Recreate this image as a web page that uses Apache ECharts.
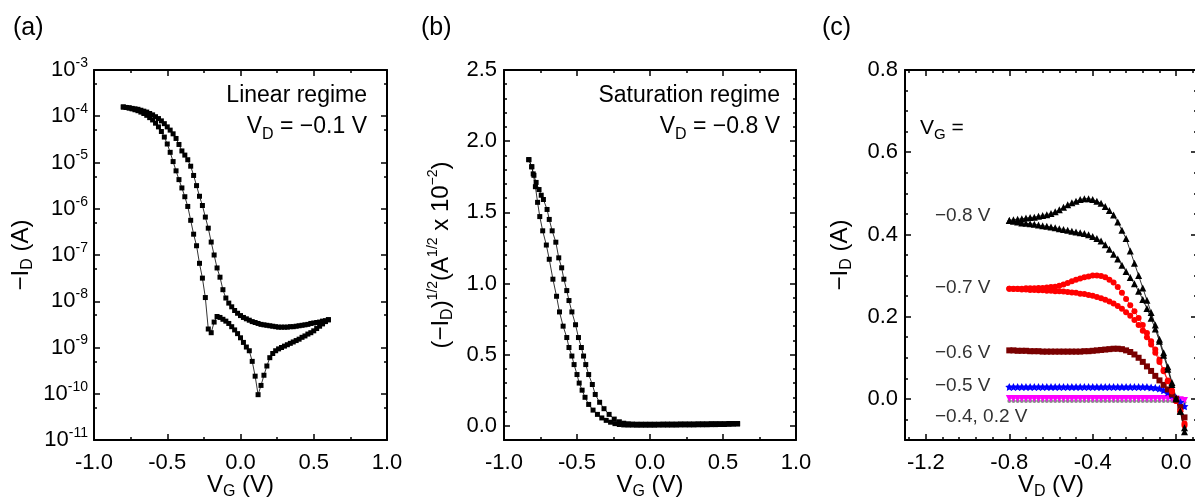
<!DOCTYPE html>
<html>
<head>
<meta charset="utf-8">
<script src="https://cdn.jsdelivr.net/npm/echarts@6/dist/echarts.min.js"></script>
<style>
	html, body {margin: 0;padding: 0;background: #fff}
	#main {width: 1195px;height: 504px}
</style>
</head>
<body>
<div id="main"></div>
<script>
	// (a) transfer curve, linear regime: V_G and log10(-I_D) of both sweep branches
	var aVg = [-0.80,-0.78,-0.76,-0.74,-0.72,-0.70,-0.68,-0.66,-0.64,-0.62,-0.60,-0.58,-0.56,-0.54,-0.52,-0.50,-0.48,-0.46,-0.44,-0.42,-0.40,-0.38,-0.36,-0.34,-0.32,-0.30,-0.28,-0.26,-0.24,-0.22,-0.20,-0.18,-0.16,-0.14,-0.12,-0.10,-0.08,-0.06,-0.04,-0.02,0.00,0.02,0.04,0.06,0.08,0.10,0.12,0.14,0.16,0.18,0.20,0.22,0.24,0.26,0.28,0.30,0.32,0.34,0.36,0.38,0.40,0.42,0.44,0.46,0.48,0.50,0.52,0.54,0.56,0.58,0.60];
	var aLogLow = [-3.80,-3.81,-3.82,-3.84,-3.86,-3.88,-3.91,-3.94,-3.98,-4.03,-4.08,-4.15,-4.23,-4.33,-4.45,-4.60,-4.78,-4.98,-5.18,-5.37,-5.55,-5.74,-5.95,-6.25,-6.55,-6.80,-7.18,-7.50,-7.92,-8.60,-8.68,-8.45,-8.33,-8.35,-8.39,-8.43,-8.48,-8.55,-8.62,-8.70,-8.79,-8.89,-8.99,-9.07,-9.30,-9.62,-10.02,-9.82,-9.60,-9.40,-9.22,-9.13,-9.07,-9.03,-9.00,-8.97,-8.94,-8.91,-8.88,-8.85,-8.82,-8.78,-8.75,-8.71,-8.68,-8.64,-8.59,-8.54,-8.49,-8.44,-8.40];
	var aLogHigh = [-3.80,-3.81,-3.82,-3.83,-3.84,-3.85,-3.87,-3.89,-3.91,-3.94,-3.97,-4.01,-4.05,-4.10,-4.16,-4.23,-4.30,-4.38,-4.48,-4.61,-4.75,-4.84,-4.94,-5.08,-5.28,-5.50,-5.73,-5.93,-6.18,-6.42,-6.72,-7.00,-7.28,-7.48,-7.75,-7.93,-8.04,-8.12,-8.20,-8.26,-8.31,-8.35,-8.38,-8.41,-8.44,-8.46,-8.48,-8.50,-8.51,-8.52,-8.53,-8.54,-8.55,-8.56,-8.56,-8.56,-8.56,-8.55,-8.55,-8.54,-8.53,-8.52,-8.51,-8.50,-8.48,-8.47,-8.46,-8.45,-8.43,-8.42,-8.40];

	// (b) saturation regime: (-I_D)^1/2 in units of 1e-2 A^1/2
	var bVgLow = [-0.83,-0.81,-0.80,-0.785,-0.77,-0.755,-0.735,-0.71,-0.69,-0.665,-0.64,-0.62,-0.595,-0.57,-0.555,-0.535,-0.52,-0.50,-0.485,-0.465,-0.445,-0.42,-0.39,-0.36,-0.33,-0.30,-0.27,-0.24,-0.21,-0.18,-0.15,-0.12,-0.09,-0.06,-0.03,0.00,0.03,0.06,0.09,0.12,0.15,0.18,0.21,0.24,0.27,0.30,0.33,0.36,0.39,0.42,0.45,0.48,0.51,0.54,0.57,0.60];
	var bSqLow = [1.87,1.82,1.77,1.68,1.57,1.47,1.37,1.27,1.17,1.03,0.91,0.80,0.70,0.62,0.55,0.49,0.43,0.36,0.30,0.25,0.20,0.15,0.11,0.08,0.055,0.038,0.025,0.015,0.009,0.006,0.005,0.005,0.004,0.004,0.004,0.004,0.004,0.005,0.005,0.005,0.005,0.005,0.006,0.006,0.006,0.006,0.007,0.007,0.007,0.008,0.008,0.009,0.009,0.010,0.011,0.012];
	var bVgHigh = [-0.83,-0.81,-0.795,-0.78,-0.76,-0.745,-0.73,-0.705,-0.69,-0.67,-0.645,-0.625,-0.605,-0.59,-0.57,-0.555,-0.535,-0.51,-0.49,-0.47,-0.455,-0.44,-0.42,-0.395,-0.375,-0.345,-0.315,-0.28,-0.245,-0.21,-0.18,-0.15,-0.12,-0.09,-0.06,-0.03,0.00,0.03,0.06,0.09,0.12,0.15,0.18,0.21,0.24,0.27,0.30,0.33,0.36,0.39,0.42,0.45,0.48,0.51,0.54,0.57,0.60];
	var bSqHigh = [1.87,1.82,1.76,1.71,1.66,1.62,1.59,1.52,1.45,1.37,1.29,1.18,1.11,1.03,0.95,0.88,0.80,0.71,0.62,0.55,0.49,0.43,0.36,0.29,0.22,0.165,0.12,0.08,0.047,0.028,0.018,0.014,0.012,0.011,0.011,0.011,0.011,0.011,0.011,0.012,0.012,0.012,0.012,0.013,0.013,0.013,0.013,0.014,0.014,0.014,0.015,0.015,0.015,0.015,0.016,0.016,0.016];

	// (c) output curves: V_D and -I_D (A) for each V_G
	var cVd = [-0.80,-0.78,-0.76,-0.74,-0.72,-0.70,-0.68,-0.66,-0.64,-0.62,-0.60,-0.58,-0.56,-0.54,-0.52,-0.50,-0.48,-0.46,-0.44,-0.42,-0.40,-0.38,-0.36,-0.34,-0.32,-0.30,-0.28,-0.26,-0.24,-0.22,-0.20,-0.18,-0.16,-0.14,-0.12,-0.10,-0.08,-0.06,-0.04,-0.02,0.00,0.02,0.04];
	var cVg08Up = [0.434,0.436,0.437,0.438,0.440,0.441,0.442,0.444,0.446,0.448,0.451,0.455,0.460,0.466,0.472,0.477,0.481,0.485,0.487,0.487,0.485,0.481,0.476,0.468,0.458,0.447,0.430,0.410,0.390,0.360,0.330,0.300,0.270,0.240,0.210,0.180,0.145,0.112,0.078,0.040,0.002,-0.030,-0.080];
	var cVg08Down = [0.434,0.432,0.430,0.428,0.427,0.426,0.425,0.423,0.421,0.420,0.418,0.416,0.414,0.412,0.410,0.408,0.406,0.404,0.402,0.399,0.395,0.390,0.384,0.375,0.364,0.352,0.340,0.325,0.310,0.295,0.280,0.262,0.242,0.220,0.196,0.170,0.140,0.106,0.072,0.035,0.000,-0.030,-0.070];
	var cVg07Up = [0.268,0.268,0.268,0.268,0.269,0.269,0.269,0.270,0.270,0.271,0.272,0.273,0.275,0.278,0.282,0.286,0.290,0.293,0.296,0.298,0.300,0.300,0.299,0.296,0.290,0.283,0.272,0.258,0.243,0.228,0.213,0.197,0.180,0.160,0.140,0.120,0.095,0.070,0.045,0.020,-0.005,-0.030,-0.060];
	var cVg07Down = [0.268,0.267,0.267,0.266,0.266,0.265,0.265,0.264,0.264,0.263,0.263,0.262,0.262,0.261,0.260,0.259,0.258,0.256,0.255,0.253,0.251,0.248,0.245,0.241,0.237,0.232,0.226,0.219,0.211,0.202,0.192,0.180,0.166,0.150,0.132,0.112,0.090,0.067,0.043,0.018,-0.005,-0.030,-0.065];
	var cVg06 = [0.118,0.118,0.117,0.117,0.117,0.116,0.116,0.116,0.115,0.115,0.115,0.115,0.115,0.115,0.115,0.115,0.115,0.115,0.116,0.116,0.117,0.118,0.119,0.120,0.121,0.122,0.122,0.121,0.118,0.114,0.108,0.100,0.090,0.079,0.068,0.056,0.045,0.034,0.023,0.011,0.000,-0.020,-0.045];
	var cVg05 = [0.029,0.029,0.029,0.029,0.029,0.029,0.029,0.029,0.029,0.029,0.029,0.029,0.029,0.029,0.029,0.029,0.029,0.029,0.029,0.029,0.029,0.029,0.029,0.029,0.029,0.029,0.029,0.029,0.029,0.029,0.029,0.029,0.029,0.029,0.028,0.027,0.025,0.021,0.016,0.009,0.001,-0.008,-0.018];
	var cVg04 = [0.001,0.001,0.001,0.001,0.001,0.001,0.001,0.001,0.001,0.001,0.001,0.001,0.001,0.001,0.001,0.001,0.001,0.001,0.001,0.001,0.001,0.001,0.001,0.001,0.001,0.001,0.001,0.001,0.001,0.001,0.001,0.001,0.001,0.001,0.001,0.001,0.001,0.001,0.001,0.001,0.000,-0.002,-0.004];
	var cVgP02 = [-0.005,-0.005,-0.005,-0.005,-0.005,-0.005,-0.005,-0.005,-0.005,-0.005,-0.005,-0.005,-0.005,-0.005,-0.005,-0.005,-0.005,-0.005,-0.005,-0.005,-0.005,-0.005,-0.005,-0.005,-0.005,-0.005,-0.005,-0.005,-0.005,-0.005,-0.005,-0.005,-0.005,-0.005,-0.005,-0.005,-0.005,-0.005,-0.005,-0.005,-0.005,-0.006,-0.008];

	// tick values
	var vgTicks = [-1.0, -0.5, 0.0, 0.5, 1.0];
	var vgMinor = [-0.75, -0.25, 0.25, 0.75];
	var aYTicks = [1e-11, 1e-10, 1e-9, 1e-8, 1e-7, 1e-6, 1e-5, 1e-4, 1e-3];
	var aYMinor = [5e-11, 5e-10, 5e-9, 5e-8, 5e-7, 5e-6, 5e-5, 5e-4];
	var bYTicks = [0.0, 0.5, 1.0, 1.5, 2.0, 2.5];
	var bYMinor = [0.1, 0.2, 0.3, 0.4, 0.6, 0.7, 0.8, 0.9, 1.1, 1.2, 1.3, 1.4, 1.6, 1.7, 1.8, 1.9, 2.1, 2.2, 2.3, 2.4];
	var cXTicks = [-1.2, -0.8, -0.4, 0.0];
	var cXMinor = [-1.28, -1.12, -1.04, -0.96, -0.88, -0.72, -0.64, -0.56, -0.48, -0.32, -0.24, -0.16, -0.08, 0.08];
	var cYTicks = [0.0, 0.2, 0.4, 0.6, 0.8];
	var cYMinor = [-0.05, 0.05, 0.1, 0.15, 0.25, 0.3, 0.35, 0.45, 0.5, 0.55, 0.65, 0.7, 0.75];

	var FONT = '"Liberation Sans", Arial, sans-serif';
	var RICH = {
		sub: {fontSize: 16, verticalAlign: 'bottom', fontFamily: FONT, color: '#000'},
		sup: {fontSize: 14, verticalAlign: 'top', fontFamily: FONT, color: '#000'}
	};

	function fixed1(v) {
		return Math.abs(v) < 1e-9 ? '0.0' : v.toFixed(1);
	}
	function powLabel(v) {
		return '10{sup|' + Math.round(Math.log(v) / Math.LN10) + '}';
	}

	function makeAxis(o) {
		var axis = {
			type: o.type || 'value',
			gridIndex: o.grid,
			position: o.pos,
			min: o.min,
			max: o.max,
			splitLine: {show: false},
			axisLine: {show: !!o.line, onZero: false, lineStyle: {color: '#000', width: 2}},
			axisTick: {show: true, inside: true, length: o.len, customValues: o.ticks, lineStyle: {color: '#000', width: 1.5}},
			axisLabel: {show: false}
		};
		if (o.type == 'log') axis.logBase = 10;
		if (o.label) {
			axis.axisLabel = {
				show: true, customValues: o.ticks, formatter: o.label, margin: o.margin,
				fontFamily: FONT, fontSize: 22, color: '#000', lineHeight: 28, rich: RICH
			};
		}
		if (o.name) {
			axis.name = o.name;
			axis.nameLocation = 'middle';
			axis.nameGap = o.nameGap;
			axis.nameRotate = o.nameRotate || 0;
			if (o.noMove) axis.nameMoveOverlap = false;
			axis.nameTextStyle = {fontFamily: FONT, fontSize: 24, color: '#000', lineHeight: 30, rich: RICH};
		}
		return axis;
	}

	// main axis (line, major ticks, labels), its minor ticks, and the mirrored side
	function addAxisSet(list, o) {
		var idx = list.length;
		var base = {grid: o.grid, type: o.type, min: o.min, max: o.max};
		list.push(makeAxis(Object.assign({}, o, {pos: o.pos, line: true, ticks: o.majors, len: 6})));
		list.push(makeAxis(Object.assign({}, base, {pos: o.pos, ticks: o.minors, len: 3})));
		list.push(makeAxis(Object.assign({}, base, {pos: o.opp, line: true, ticks: o.majors, len: 6})));
		list.push(makeAxis(Object.assign({}, base, {pos: o.opp, ticks: o.minors, len: 3})));
		return idx;
	}

	var xAxes = [], yAxes = [];
	var ax = addAxisSet(xAxes, {grid: 0, min: -1, max: 1, pos: 'bottom', opp: 'top', majors: vgTicks, minors: vgMinor,
		label: fixed1, margin: 9, name: 'V{sub|G} (V)', nameGap: 30, noMove: true});
	var ay = addAxisSet(yAxes, {grid: 0, type: 'log', min: 1e-11, max: 1e-3, pos: 'left', opp: 'right', majors: aYTicks, minors: aYMinor,
		label: powLabel, margin: 6, name: '−I{sub|D} (A)', nameGap: 58, nameRotate: 90});
	var bx = addAxisSet(xAxes, {grid: 1, min: -1, max: 1, pos: 'bottom', opp: 'top', majors: vgTicks, minors: vgMinor,
		label: fixed1, margin: 9, name: 'V{sub|G} (V)', nameGap: 30, noMove: true});
	var by = addAxisSet(yAxes, {grid: 1, min: -0.1, max: 2.5, pos: 'left', opp: 'right', majors: bYTicks, minors: bYMinor,
		label: fixed1, margin: 7, name: '(−I{sub|D}){sup|1/2}(A{sup|1/2} x 10{sup|−2})', nameGap: 48, nameRotate: 90});
	var cx = addAxisSet(xAxes, {grid: 2, min: -1.3, max: 0.1, pos: 'bottom', opp: 'top', majors: cXTicks, minors: cXMinor,
		label: fixed1, margin: 9, name: 'V{sub|D} (V)', nameGap: 30, noMove: true});
	var cy = addAxisSet(yAxes, {grid: 2, min: -0.1, max: 0.8, pos: 'left', opp: 'right', majors: cYTicks, minors: cYMinor,
		label: fixed1, margin: 7, name: '−I{sub|D} (A)', nameGap: 50, nameRotate: 90});

	function pairs(xs, ys, f) {
		return xs.map(function (x, i) { return [x, f ? f(ys[i]) : ys[i]]; });
	}
	function pow10(v) { return Math.pow(10, v); }

	function line(xi, yi, data, symbol, size, color, extra) {
		return Object.assign({
			type: 'line', xAxisIndex: xi, yAxisIndex: yi, data: data,
			symbol: symbol, symbolSize: size, showAllSymbol: true,
			itemStyle: {color: color, opacity: 1},
			lineStyle: {color: color, width: 0.8},
			emphasis: {disabled: true},
			z: 3
		}, extra || {});
	}

	var STAR = 'path://M0,-10L2.9,-4L9.5,-3.1L4.8,1.5L5.9,8.1L0,5L-5.9,8.1L-4.8,1.5L-9.5,-3.1L-2.9,-4Z';

	var series = [
		line(ax, ay, pairs(aVg, aLogLow, pow10), 'rect', 5, '#000'),
		line(ax, ay, pairs(aVg, aLogHigh, pow10), 'rect', 5, '#000'),
		line(bx, by, pairs(bVgLow, bSqLow), 'rect', 5, '#000'),
		line(bx, by, pairs(bVgHigh, bSqHigh), 'rect', 5, '#000'),
		line(cx, cy, pairs(cVd, cVgP02), 'circle', 4, '#8c8c8c'),
		line(cx, cy, pairs(cVd, cVg04), 'triangle', 7, '#ff00ff', {symbolRotate: 180}),
		line(cx, cy, pairs(cVd, cVg05), STAR, 8, '#0000ff'),
		line(cx, cy, pairs(cVd, cVg06), 'rect', 6, '#7a0000'),
		line(cx, cy, pairs(cVd, cVg07Down), 'circle', 6, '#ff0000'),
		line(cx, cy, pairs(cVd, cVg07Up), 'circle', 6, '#ff0000'),
		line(cx, cy, pairs(cVd, cVg08Down), 'triangle', 7, '#000'),
		line(cx, cy, pairs(cVd, cVg08Up), 'triangle', 7, '#000')
	];

	function txt(x, y, text, size, align, color) {
		return {
			type: 'text', x: x, y: y, z: 10,
			style: {
				text: text, fontFamily: FONT, fontSize: size, fill: color || '#000',
				align: align || 'left', verticalAlign: 'middle', lineHeight: size + 8,
				rich: {
					sub: {fontSize: Math.round(size * 0.7), verticalAlign: 'bottom', fontFamily: FONT, fill: color || '#000'},
					sup: {fontSize: Math.round(size * 0.62), verticalAlign: 'top', fontFamily: FONT, fill: color || '#000'}
				}
			}
		};
	}

	var graphics = [
		txt(13, 28, '(a)', 25),
		txt(421, 28, '(b)', 25),
		txt(822, 28, '(c)', 25),
		txt(367, 96, 'Linear regime', 23, 'right'),
		txt(367, 127, 'V{sub|D} = −0.1 V', 23, 'right'),
		txt(780, 96, 'Saturation regime', 23, 'right'),
		txt(780, 127, 'V{sub|D} = −0.8 V', 23, 'right'),
		txt(920, 128, 'V{sub|G} =', 21),
		txt(935, 216, '−0.8 V', 19, 'left', '#333'),
		txt(935, 288, '−0.7 V', 19, 'left', '#333'),
		txt(935, 353, '−0.6 V', 19, 'left', '#333'),
		txt(935, 386, '−0.5 V', 19, 'left', '#333'),
		txt(935, 417, '−0.4, 0.2 V', 19, 'left', '#333')
	];

	var myChart = echarts.init(document.getElementById('main'), null, {renderer: 'canvas'});
	myChart.setOption({
		animation: false,
		backgroundColor: '#fff',
		grid: [
			{left: 94, top: 70, width: 293, height: 370, containLabel: false, outerBoundsMode: 'none'},
			{left: 504, top: 70, width: 292, height: 370, containLabel: false, outerBoundsMode: 'none'},
			{left: 905, top: 70, width: 292, height: 370, containLabel: false, outerBoundsMode: 'none'}
		],
		xAxis: xAxes,
		yAxis: yAxes,
		series: series,
		graphic: graphics
	});
</script>
</body>
</html>
